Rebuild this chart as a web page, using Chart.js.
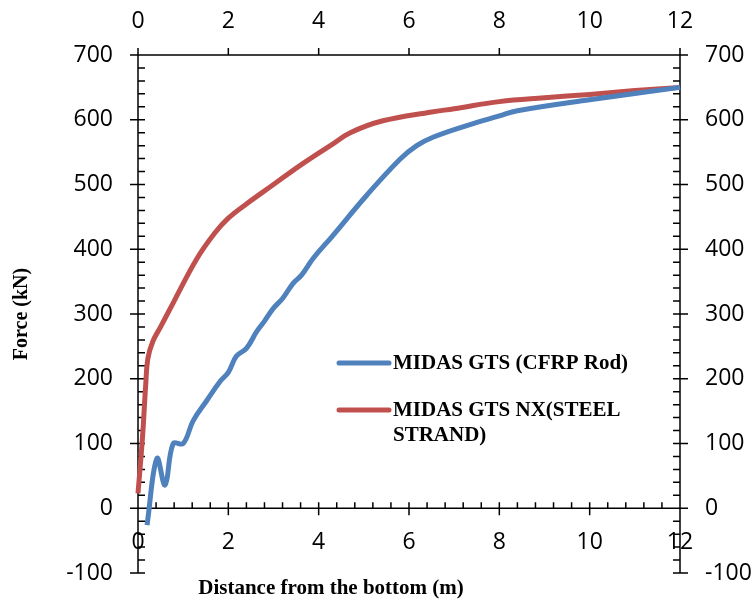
<!DOCTYPE html>
<html>
<head>
<meta charset="utf-8">
<script src="https://cdn.jsdelivr.net/npm/chart.js@4.4.0/dist/chart.umd.min.js"></script>
<style>
  html, body { margin: 0; padding: 0; background: #fff; }
</style>
</head>
<body>
<canvas id="grafiek" width="755" height="600"></canvas>
<script>
// afstand (m) en kracht (kN) per reeks
const cfrpX = [0.2, 0.42, 0.6, 0.78, 1.0, 1.22, 1.52, 1.82, 2.0, 2.18, 2.4, 2.63, 2.8, 3.0, 3.2, 3.43, 3.62, 3.88, 4.3, 5.06, 5.8, 6.17, 6.53, 7.28, 8.0, 8.4, 10.0, 12.0];
const cfrpY = [-26, 77, 36, 100, 100, 135, 166, 196, 210, 235, 247, 273, 289, 309, 324, 347, 360, 386, 420, 483, 539, 560, 573, 591, 606, 614, 631, 650];
const steelX = [0, 0.1, 0.17, 0.22, 0.33, 0.5, 0.8, 1.3, 1.7, 2.0, 2.4, 3.0, 3.6, 4.3, 4.7, 5.4, 6.5, 7.0, 8.0, 9.0, 10.0, 11.0, 12.0];
const steelY = [23, 110, 190, 232, 258, 280, 320, 385, 425, 448, 470, 500, 530, 562, 580, 598, 612, 617, 628, 634, 639, 645, 650];
const seriesNames = ['MIDAS GTS (CFRP Rod)', 'MIDAS GTS NX(STEEL STRAND)'];
const seriesColors = ['#4F81BD', '#C0504D'];
const xTicks = [0, 2, 4, 6, 8, 10, 12];
const yTicks = [-100, 0, 100, 200, 300, 400, 500, 600, 700];
const xTitle = 'Distance from the bottom (m)';
const yTitle = 'Force (kN)';

const tickFont = { family: 'Open Sans', size: 23 };
const serif = '"Liberation Serif", "Times New Roman", serif';

function toPoints(xs, ys) {
    return xs.map((x, i) => ({ x: x, y: ys[i] }));
}

// assen met streepjes zoals in Excel
const assenPlugin = {
    id: 'assen',
    beforeDatasetsDraw(chart) {
        const { ctx, chartArea: ca, scales } = chart;
        const sx = scales.x, sy = scales.y;
        const y0 = sy.getPixelForValue(0);
        ctx.save();
        ctx.strokeStyle = '#000';
        ctx.lineWidth = 1.5;
        ctx.beginPath();
        ctx.moveTo(ca.left, ca.top); ctx.lineTo(ca.right, ca.top);
        ctx.moveTo(ca.left, ca.top); ctx.lineTo(ca.left, ca.bottom);
        ctx.moveTo(ca.right, ca.top); ctx.lineTo(ca.right, ca.bottom);
        ctx.moveTo(ca.left, y0); ctx.lineTo(ca.right, y0);
        xTicks.forEach(v => {
            const px = sx.getPixelForValue(v);
            ctx.moveTo(px, ca.top - 7); ctx.lineTo(px, ca.top);
            ctx.moveTo(px, y0 - 6); ctx.lineTo(px, y0 + 7);
        });
        for (let i = 1; i < 30; i++) {
            if (i % 5 === 0) continue;
            const px = sx.getPixelForValue(i * 0.4);
            ctx.moveTo(px, y0 - 6); ctx.lineTo(px, y0);
        }
        yTicks.forEach(v => {
            const py = sy.getPixelForValue(v);
            ctx.moveTo(ca.left - 8, py); ctx.lineTo(ca.left + 7, py);
            ctx.moveTo(ca.right - 7, py); ctx.lineTo(ca.right + 8, py);
        });
        for (let v = -80; v < 700; v += 20) {
            if (v % 100 === 0) continue;
            const py = sy.getPixelForValue(v);
            ctx.moveTo(ca.left, py); ctx.lineTo(ca.left + 7, py);
            ctx.moveTo(ca.right - 7, py); ctx.lineTo(ca.right, py);
        }
        ctx.stroke();

        // getallen onder de nul-lijn
        ctx.fillStyle = '#000';
        ctx.font = tickFont.size + 'px "' + tickFont.family + '"';
        ctx.textAlign = 'center';
        ctx.textBaseline = 'middle';
        xTicks.forEach(v => ctx.fillText(String(v), sx.getPixelForValue(v), y0 + 34));
        ctx.restore();
    },
    afterDraw(chart) {
        const ctx = chart.ctx;
        ctx.save();
        ctx.fillStyle = '#000';
        ctx.font = 'bold 21px ' + serif;
        ctx.textAlign = 'center';
        ctx.textBaseline = 'middle';
        ctx.fillText(xTitle, 331, 589);

        // legenda binnen het plotvlak
        ctx.textAlign = 'left';
        let y = 363;
        chart.data.datasets.forEach(ds => {
            ctx.strokeStyle = ds.borderColor;
            ctx.lineWidth = 5;
            ctx.lineCap = 'round';
            ctx.beginPath();
            ctx.moveTo(339, y); ctx.lineTo(389, y);
            ctx.stroke();
            const words = ds.label.split(' ');
            const lines = [];
            let line = '';
            words.forEach(w => {
                const test = line ? line + ' ' + w : w;
                if (ctx.measureText(test).width > 250 && line) {
                    lines.push(line);
                    line = w;
                } else {
                    line = test;
                }
            });
            lines.push(line);
            lines.forEach((l, k) => ctx.fillText(l, 393, y + 1 + k * 25));
            y += 47;
        });
        ctx.restore();
    }
};

const ctx = document.getElementById('grafiek').getContext('2d');
new Chart(ctx, {
    type: 'scatter',
    data: {
        datasets: [{
            label: seriesNames[0],
            data: toPoints(cfrpX, cfrpY),
            borderColor: seriesColors[0],
            backgroundColor: seriesColors[0],
            borderWidth: 5,
            showLine: true,
            tension: 0.4,
            pointRadius: 0,
            clip: false
        }, {
            label: seriesNames[1],
            data: toPoints(steelX, steelY),
            borderColor: seriesColors[1],
            backgroundColor: seriesColors[1],
            borderWidth: 5,
            showLine: true,
            tension: 0.4,
            pointRadius: 0,
            clip: false
        }]
    },
    options: {
        responsive: false,
        animation: false,
        layout: { padding: { bottom: 27 } },
        plugins: {
            legend: { display: false },
            tooltip: { enabled: false }
        },
        scales: {
            x: {
                type: 'linear',
                position: 'top',
                min: 0,
                max: 12,
                afterBuildTicks: s => { s.ticks = xTicks.map(v => ({ value: v })); },
                ticks: { font: tickFont, color: '#000', padding: 20, maxRotation: 0 },
                grid: { display: false, drawTicks: false },
                border: { display: false },
                afterFit: s => { s.height = 55; s.paddingLeft = 0; s.paddingRight = 0; }
            },
            y: {
                type: 'linear',
                position: 'left',
                min: -100,
                max: 700,
                afterBuildTicks: s => { s.ticks = yTicks.map(v => ({ value: v })); },
                ticks: { font: tickFont, color: '#000', padding: 25 },
                grid: { display: false, drawTicks: false },
                border: { display: false },
                title: {
                    display: true,
                    text: yTitle,
                    color: '#000',
                    font: { family: serif, size: 20, weight: 'bold' },
                    padding: { top: 10 }
                },
                afterFit: s => { s.width = 138; s.paddingTop = 0; s.paddingBottom = 0; }
            },
            y2: {
                type: 'linear',
                position: 'right',
                min: -100,
                max: 700,
                afterBuildTicks: s => { s.ticks = yTicks.map(v => ({ value: v })); },
                ticks: { font: tickFont, color: '#000', padding: 25 },
                grid: { display: false, drawTicks: false },
                border: { display: false },
                afterFit: s => { s.width = 75; s.paddingTop = 0; s.paddingBottom = 0; }
            }
        }
    },
    plugins: [assenPlugin]
});
</script>
</body>
</html>
